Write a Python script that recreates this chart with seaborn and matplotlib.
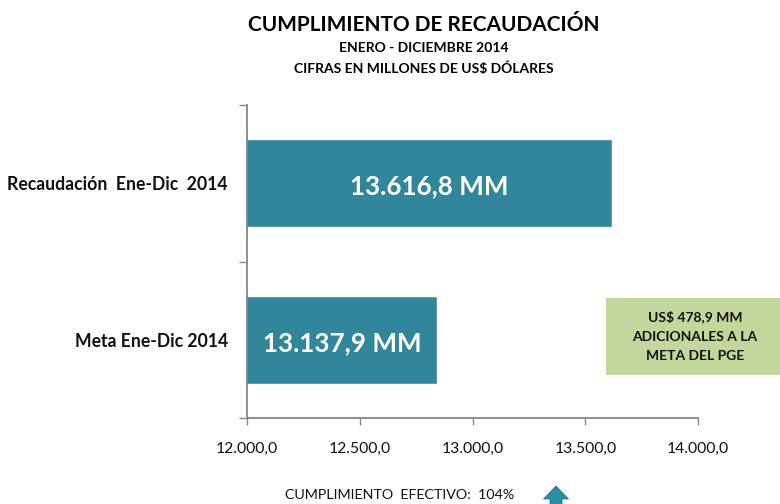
from __future__ import annotations

import matplotlib.pyplot as plt
import pandas as pd
import seaborn as sns
from matplotlib.patches import FancyArrow, Rectangle

categories = ["Recaudación  Ene-Dic  2014", "Meta Ene-Dic 2014"]
# bar lengths as drawn in the picture (the second does not match its own label)
bar_values = [13616.8, 12842.0]
bar_labels = ["13.616,8 MM", "13.137,9 MM"]
x_ticks = [12000, 12500, 13000, 13500, 14000]
x_tick_labels = ["12.000,0", "12.500,0", "13.000,0", "13.500,0", "14.000,0"]

W, H = 780, 504
BAR_COLOR = "#31869b"
AXIS_COLOR = "#868686"


def fx(px: float) -> float:
    return px / W


def fy(px: float) -> float:
    return 1 - px / H


sns.set_theme(style="white")
plt.rcParams["font.family"] = ["Lato", "DejaVu Sans"]

fig = plt.figure(figsize=(7.8, 5.04), dpi=100)
ax = fig.add_axes([fx(247), fy(418), fx(698) - fx(247), (418 - 105) / H])

df = pd.DataFrame({"category": categories, "value": bar_values})
sns.barplot(data=df, x="value", y="category", color=BAR_COLOR, saturation=1, width=0.56, ax=ax)
ax.set_xlim(12000, 14000)
ax.set_ylim(1.5, -0.5)
ax.set_xlabel("")
ax.set_ylabel("")

ax.set_xticks(x_ticks)
ax.set_xticklabels(x_tick_labels, fontsize=11.3, color="#111111")
ax.tick_params(axis="x", direction="out", length=5, width=1, color=AXIS_COLOR, pad=12, bottom=True)

# y ticks sit between the categories, labels at the category centres
ax.set_yticks([-0.5, 0.5, 1.5])
ax.set_yticklabels([])
ax.tick_params(axis="y", direction="out", length=6, width=1, color=AXIS_COLOR, left=True)
for i, name in enumerate(categories):
    ax.text(-0.042, i + 0.01, name, transform=ax.get_yaxis_transform(), ha="right", va="center",
            fontsize=12.7, fontweight="bold", color="#111111")

sns.despine(ax=ax)
for side in ["left", "bottom"]:
    ax.spines[side].set_color(AXIS_COLOR)
    ax.spines[side].set_linewidth(1.3)

for i, (value, label) in enumerate(zip(bar_values, bar_labels)):
    ax.text((12000 + value) / 2, i + 0.02, label, ha="center", va="center",
            fontsize=18.7, fontweight="bold", color="white")

fig.text(fx(424), fy(25), "CUMPLIMIENTO DE RECAUDACIÓN", ha="center", va="center",
         fontsize=15, fontweight="bold", color="black")
fig.text(fx(424), fy(48), "ENERO - DICIEMBRE 2014", ha="center", va="center",
         fontsize=10, fontweight="bold", color="black")
fig.text(fx(424), fy(68), "CIFRAS EN MILLONES DE US$ DÓLARES", ha="center", va="center",
         fontsize=10, fontweight="bold", color="black")

fig.add_artist(Rectangle((fx(606), fy(375)), fx(780) - fx(606), (375 - 298) / H,
                         transform=fig.transFigure, facecolor="#c3d69b", edgecolor="none"))
for y, line in zip([317, 337, 356], ["US$ 478,9 MM", "ADICIONALES A LA", "META DEL PGE"]):
    fig.text(fx(695), fy(y), line, ha="center", va="center", fontsize=10, fontweight="bold", color="#111111")

fig.text(fx(400), fy(495), "CUMPLIMIENTO  EFECTIVO:  104%", ha="center", va="center",
         fontsize=10.3, color="#111111")

# arrow runs off the bottom edge of the picture
fig.add_artist(FancyArrow(fx(556), fy(510), 0, (510 - 486) / H, width=fx(12), head_width=fx(25),
                          head_length=13 / H, length_includes_head=True, transform=fig.transFigure,
                          facecolor="#2f8aa3", edgecolor="#1f6f86", linewidth=0.5))

fig.savefig("out.png", dpi=100)
